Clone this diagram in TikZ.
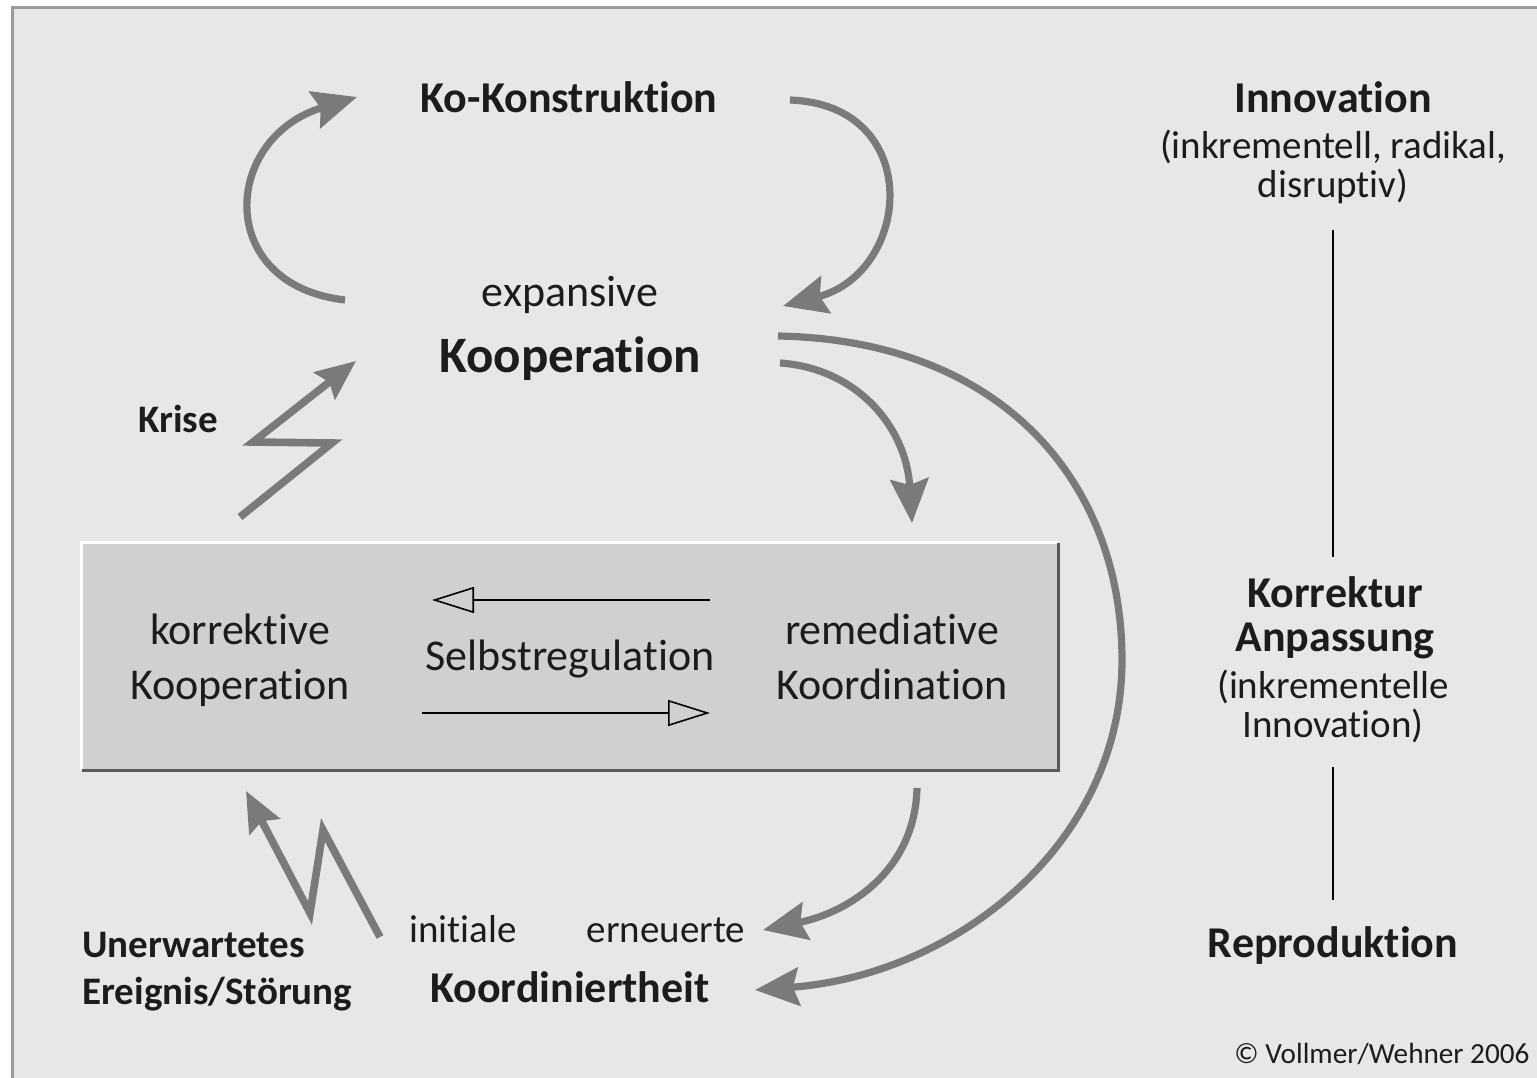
\documentclass[tikz,border=0pt]{standalone}
\usepackage{fontspec}
\setmainfont{Carlito}[Ligatures={NoCommon}]
\usetikzlibrary{arrows.meta}

\definecolor{panel}{HTML}{E7E7E7}
\definecolor{framegray}{HTML}{9A9A9A}
\definecolor{insetfill}{HTML}{D0D0D0}
\definecolor{insetdark}{HTML}{5A5A5A}
\definecolor{flow}{HTML}{7A7A7A}
\definecolor{ink}{HTML}{1C1C1C}

\newcommand\fsnormal{\fontsize{22}{27.5}\selectfont}
\newcommand\fsbig{\fontsize{25.5}{30}\selectfont}
\newcommand\fsnote{\fontsize{19.5}{19.5}\selectfont}
\newcommand\fstiny{\fontsize{14.6}{17}\selectfont}

\tikzset{
  lbl/.style={text=ink, inner sep=0pt, anchor=base},
  flowarrow/.style={draw=flow, line width=3.6pt, line join=miter,
    -{Stealth[length=22pt,width=19pt,inset=3pt]}},
  boltarrow/.style={draw=flow, line width=3.8pt, line join=miter,
    -{Stealth[length=20pt,width=17pt,inset=3pt]}},
  thinarrow/.style={draw=black, line width=0.8pt,
    -{Triangle[open,length=21pt,width=13pt,line width=0.8pt]}},
  scaleline/.style={draw=black, line width=0.7pt}
}

\begin{document}
\begin{tikzpicture}[x=0.5pt, y=-0.5pt]
  % page and panel
  \useasboundingbox (0,0) rectangle (1537,1077);
  \fill[white] (0,0) rectangle (1537,1077);
  \path[fill=panel, draw=framegray, line width=1.5pt] (12,7) rectangle (1620,1140);

  % raised box for self-regulation
  \node[fill=insetfill, minimum width=488pt, minimum height=113.5pt, inner sep=0pt]
    (box) at (570,656.5) {};
  \draw[white, line width=1.5pt] (box.south west) -- (box.north west) -- (box.north east);
  \draw[insetdark, line width=1.6pt] (box.south west) -- (box.south east) -- (box.north east);

  % cycle labels (multi-line nodes sit on the baseline of their last line)
  \node[lbl, font=\fsnormal\bfseries] (ko) at (569,112) {Ko-Konstruktion};
  \node[lbl, font=\fsnormal] (exp) at (570,306) {expansive};
  \node[lbl, font=\fsbig\bfseries] (koop) at (570,372) {Kooperation};
  \node[lbl, font=\fsnote\bfseries] (krise) at (178,432) {Krise};

  \node[lbl, font=\fsnormal, align=center] (korr) at (240,699) {korrektive\\Kooperation};
  \node[lbl, font=\fsnormal] (selbst) at (570,670) {Selbstregulation};
  \node[lbl, font=\fsnormal, align=center] (remed) at (892,699) {remediative\\Koordination};

  \node[lbl, font=\fsnote] (init) at (463,942) {initiale};
  \node[lbl, font=\fsnote] (erneu) at (666,942) {erneuerte};
  \node[lbl, font=\fsnormal\bfseries] (koord) at (570,1002) {Koordiniertheit};
  \node[lbl, font=\fsnote\bfseries, anchor=base west, align=left] (stoer) at (82,1004)
    {Unerwartetes\\[4pt]Ereignis/Störung};

  % scale on the right
  \node[lbl, font=\fsnormal\bfseries] (innov) at (1333,112) {Innovation};
  \node[lbl, font=\fsnote, align=center] (innovsub) at (1333,197)
    {(inkrementell, radikal,\\disruptiv)};
  \node[lbl, font=\fsnormal\bfseries, align=center] (anp) at (1335,651)
    {Korrektur\\[-5.5pt]Anpassung};
  \node[lbl, font=\fsnote, align=center] (anpsub) at (1333,737)
    {(inkrementelle\\Innovation)};
  \node[lbl, font=\fsnormal\bfseries] (repro) at (1333,957) {Reproduktion};
  \node[lbl, font=\fstiny, anchor=base west] (copy) at (1234,1063) {© Vollmer/Wehner 2006};

  \coordinate (s1a) at (1333,230);
  \coordinate (s1b) at (1333,557);
  \coordinate (s2a) at (1333,767);
  \coordinate (s2b) at (1333,900);
  \draw[scaleline] (s1a) -- (s1b);
  \draw[scaleline] (s2a) -- (s2b);

  % self-regulation arrows inside the box
  \coordinate (sr1a) at (710,600);
  \coordinate (sr1b) at (432,600);
  \coordinate (sr2a) at (422,713);
  \coordinate (sr2b) at (710,713);
  \draw[thinarrow] (sr1a) -- (sr1b);
  \draw[thinarrow] (sr2a) -- (sr2b);

  % cycle around co-construction
  \coordinate (cl0) at (345,300);
  \coordinate (cl1) at (357,97);
  \draw[flowarrow] (cl0) .. controls (214,285) and (222,138) .. (cl1);
  \coordinate (cr0) at (790,100);
  \coordinate (cr1) at (783,306);
  \draw[flowarrow] (cr0) .. controls (925,105) and (912,272) .. (cr1);

  % from expansive cooperation down to the box
  \coordinate (kb0) at (780,363);
  \coordinate (kb1) at (912,523);
  \draw[flowarrow] (kb0) .. controls (855,368) and (906,425) .. (kb1);

  % long arc to coordination
  \coordinate (la0) at (778,336);
  \coordinate (la1) at (1122,660);
  \coordinate (la2) at (755,990);
  \draw[flowarrow] (la0) .. controls (1000,340) and (1122,480) .. (la1)
    .. controls (1122,845) and (955,975) .. (la2);

  % from the box to renewed coordination
  \coordinate (be0) at (917,788);
  \coordinate (be1) at (763,930);
  \draw[flowarrow] (be0) .. controls (915,870) and (850,912) .. (be1);

  % crisis bolt
  \coordinate (kr0) at (240,517);
  \coordinate (kr1) at (332,443);
  \coordinate (kr2) at (253,442);
  \coordinate (kr3) at (356,361);
  \draw[boltarrow] (kr0) -- (kr1) -- (kr2) -- (kr3);

  % disturbance bolt
  \coordinate (st0) at (380,937);
  \coordinate (st1) at (323,830);
  \coordinate (st2) at (310,913);
  \coordinate (st3) at (246,791);
  \draw[boltarrow] (st0) -- (st1) -- (st2) -- (st3);
\end{tikzpicture}
\end{document}
